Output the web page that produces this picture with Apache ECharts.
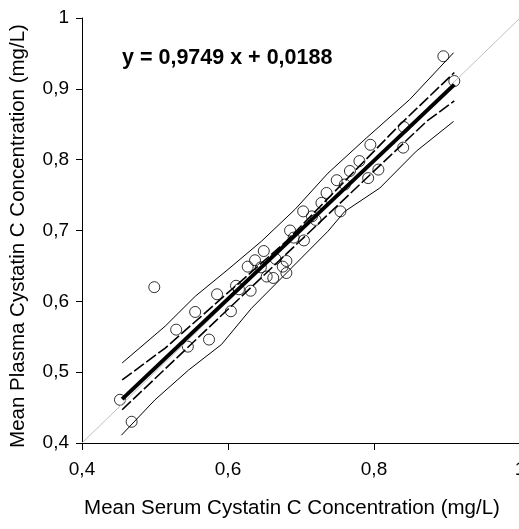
<!DOCTYPE html>
<html><head><meta charset="utf-8">
<script src="https://cdn.jsdelivr.net/npm/echarts@6/dist/echarts.min.js"></script>
<style>html,body{margin:0;padding:0;background:#fff}#c{width:519px;height:529px}</style>
</head><body><div id="c"></div>
<script>
const xTicks = [0.4, 0.6, 0.8, 1.0];
const yTicks = [0.4, 0.5, 0.6, 0.7, 0.8, 0.9, 1.0];
const pointsX = [0.452,0.468,0.499,0.529,0.545,0.555,0.574,0.585,0.604,0.611,0.631,0.637,0.627,0.649,0.653,0.662,0.680,0.675,0.680,0.685,0.704,0.703,0.728,0.735,0.749,0.754,0.767,0.780,0.792,0.795,0.806,0.840,0.841,0.895,0.910,0.615,0.645,0.665,0.690,0.715,0.720,0.760];
const pointsY = [0.461,0.430,0.620,0.560,0.536,0.585,0.546,0.610,0.586,0.622,0.615,0.658,0.649,0.671,0.635,0.633,0.657,0.649,0.640,0.700,0.686,0.727,0.739,0.753,0.771,0.727,0.784,0.798,0.774,0.821,0.786,0.817,0.846,0.946,0.911,0.617,0.648,0.660,0.690,0.720,0.715,0.765];
const regX = [0.455, 0.910];
const regY = [0.462, 0.906];
const identX = [0.4, 1.0];
const identY = [0.4, 1.0];
const predUpX = [0.455,0.514,0.555,0.600,0.646,0.692,0.737,0.790,0.849,0.909];
const predUpY = [0.513,0.565,0.607,0.645,0.685,0.730,0.781,0.831,0.885,0.951];
const predLoX = [0.454,0.500,0.546,0.591,0.632,0.683,0.737,0.760,0.808,0.858,0.909];
const predLoY = [0.411,0.461,0.503,0.539,0.590,0.643,0.699,0.727,0.760,0.812,0.854];
const confUpX = [0.455,0.514,0.680,0.836,0.910];
const confUpY = [0.489,0.534,0.685,0.850,0.923];
const confLoX = [0.455,0.680,0.872,0.910];
const confLoY = [0.447,0.667,0.854,0.883];
const equation = 'y = 0,9749 x + 0,0188';
const xName = 'Mean Serum Cystatin C Concentration (mg/L)';
const yName = 'Mean Plasma Cystatin C Concentration (mg/L)';

const zip = (a, b) => a.map((v, i) => [v, b[i]]);
const fmt = v => String(+(+v).toFixed(1)).replace('.', ',');
const FONT = 'Liberation Sans, Arial, sans-serif';

const chart = echarts.init(document.getElementById('c'), null, {renderer: 'canvas'});
const lineBase = {type: 'line', showSymbol: false, symbol: 'none', silent: true, animation: false};
chart.setOption({
  backgroundColor: '#fff',
  animation: false,
  grid: {left: 82, top: 18, width: 438, height: 425, containLabel: false, outerBoundsMode: 'none'},
  xAxis: {
    type: 'value', min: xTicks[0], max: xTicks[xTicks.length - 1], interval: 0.2,
    axisLine: {show: true, lineStyle: {color: '#000', width: 1}},
    axisTick: {show: true, length: 7, lineStyle: {color: '#000'}},
    splitLine: {show: false},
    axisLabel: {formatter: fmt, color: '#000', fontSize: 19, fontFamily: FONT, margin: 17, hideOverlap: false, showMaxLabel: true}
  },
  yAxis: {
    type: 'value', min: yTicks[0], max: yTicks[yTicks.length - 1], interval: 0.1,
    axisLine: {show: true, lineStyle: {color: '#000', width: 1}},
    axisTick: {show: true, length: 6, lineStyle: {color: '#000'}},
    splitLine: {show: false},
    axisLabel: {formatter: fmt, color: '#000', fontSize: 19, fontFamily: FONT, margin: 13}
  },
  graphic: [
    {type: 'text', x: 122, y: 58, style: {text: equation, fill: '#000', font: 'bold 21.5px ' + FONT, verticalAlign: 'middle'}},
    {type: 'text', x: 292, y: 508, style: {text: xName, fill: '#000', font: '20.5px ' + FONT, align: 'center', verticalAlign: 'middle'}},
    {type: 'text', x: 18, y: 236, rotation: Math.PI / 2, style: {text: yName, fill: '#000', font: '20.5px ' + FONT, align: 'center', verticalAlign: 'middle'}}
  ],
  series: [
    Object.assign({}, lineBase, {data: zip(identX, identY), lineStyle: {color: '#c0c0c0', width: 1}}),
    Object.assign({}, lineBase, {data: zip(predUpX, predUpY), lineStyle: {color: '#000', width: 1}}),
    Object.assign({}, lineBase, {data: zip(predLoX, predLoY), lineStyle: {color: '#000', width: 1}}),
    Object.assign({}, lineBase, {data: zip(confUpX, confUpY), lineStyle: {color: '#000', width: 1.6, type: [12, 3]}}),
    Object.assign({}, lineBase, {data: zip(confLoX, confLoY), lineStyle: {color: '#000', width: 1.6, type: [12, 3]}}),
    Object.assign({}, lineBase, {data: zip(regX, regY), lineStyle: {color: '#000', width: 4}}),
    {type: 'scatter', data: zip(pointsX, pointsY), symbol: 'circle', symbolSize: 11, silent: true,
     itemStyle: {color: 'rgba(0,0,0,0)', borderColor: '#000', borderWidth: 1}}
  ]
});
</script></body></html>
